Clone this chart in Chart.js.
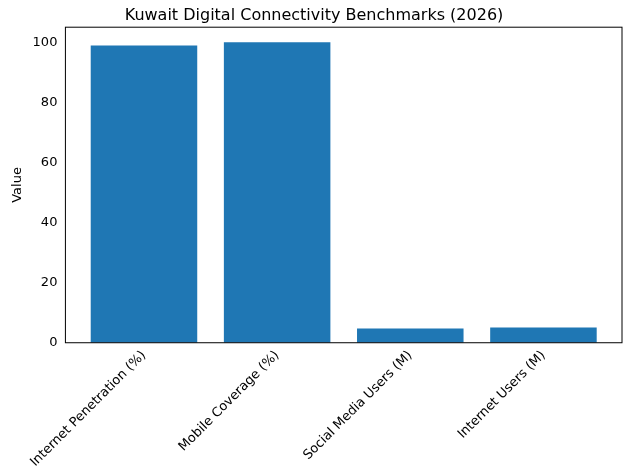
<!DOCTYPE html>
<html><head><meta charset="utf-8">
<script src="https://cdn.jsdelivr.net/npm/chart.js@4"></script>
<style>html,body{margin:0;padding:0;background:#fff}#w{width:630px;height:470px}</style>
</head><body><div id="w"><canvas id="c"></canvas></div>
<script>
const categories = ["Internet Penetration (%)", "Mobile Coverage (%)", "Social Media Users (M)", "Internet Users (M)"];
const values = [98.9, 100, 4.7, 5.1];
const yTicks = [0, 20, 40, 60, 80, 100];

const frame = {id:'frame', afterDatasetsDraw(ch){const a=ch.chartArea,x=ch.ctx;x.save();x.strokeStyle='#000';x.lineWidth=1;x.strokeRect(a.left,a.top,a.right-a.left,a.bottom-a.top);x.restore();}};
Chart.defaults.font.family = 'DejaVu Sans';
new Chart(document.getElementById('c'), {
  type: 'bar',
  data: {datasets: [{data: values.map((v,i)=>({x:i,y:v})), backgroundColor:'#1f77b4', categoryPercentage:1, barPercentage:0.8}]},
  options: {
    responsive:true, maintainAspectRatio:false, animation:false,
    layout:{padding:{left:6,right:8,top:6,bottom:0}},
    plugins:{legend:{display:false}, tooltip:{enabled:false},
      title:{display:true,text:'Kuwait Digital Connectivity Benchmarks (2026)',color:'#000',font:{size:16,weight:'normal'},padding:{top:0,bottom:2}}},
    scales:{
      x:{type:'linear',offset:false,min:-0.59,max:3.59,grid:{display:false,offset:false,drawTicks:true,tickLength:5,tickColor:'#000'},border:{display:false},
        afterBuildTicks(s){s.ticks=categories.map((_,i)=>({value:i}));},
        ticks:{color:'#000',font:{size:13},padding:0,minRotation:45,maxRotation:45,autoSkip:false,callback:(v)=>categories[v]}},
      y:{min:0,max:105,grid:{display:false,tickLength:5,tickColor:'#000'},border:{display:false},
        afterBuildTicks(s){s.ticks=yTicks.map(v=>({value:v}));},
        title:{display:true,text:'Value',color:'#000',font:{size:13}},
        ticks:{color:'#000',font:{size:13}}}
    }
  },
  plugins:[frame]
});
</script></body></html>
